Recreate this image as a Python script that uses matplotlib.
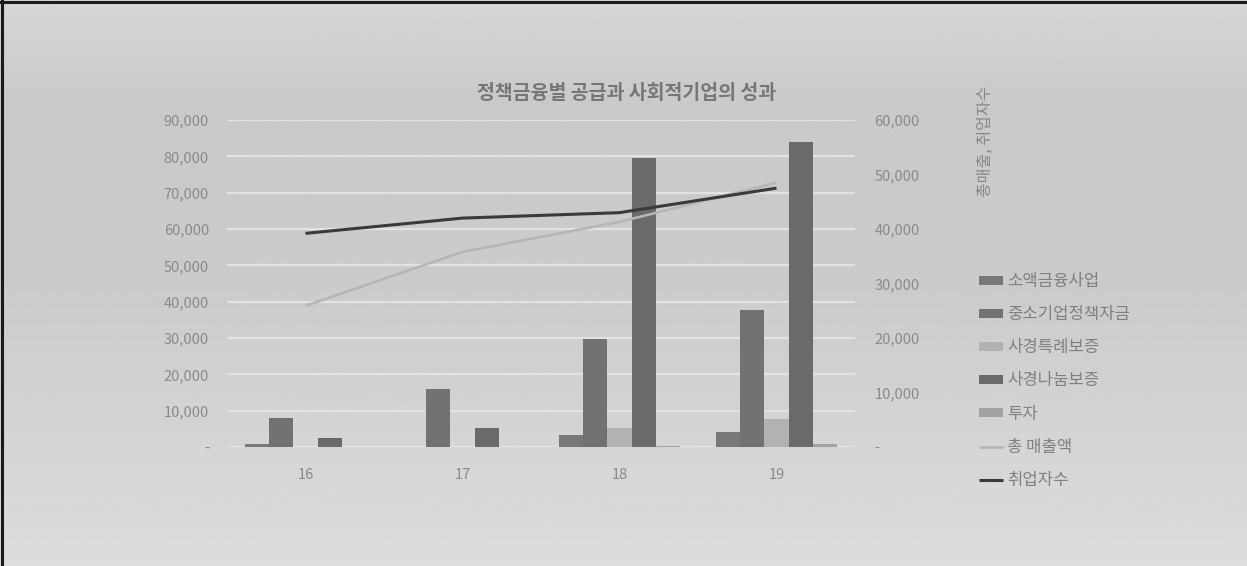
import numpy as np
import matplotlib
matplotlib.use("Agg")
import matplotlib.pyplot as plt
from matplotlib.ticker import FuncFormatter
from matplotlib.lines import Line2D

plt.rcParams['font.family'] = ['Noto Sans CJK KR', 'DejaVu Sans']

years = ["16", "17", "18", "19"]

# 정책금융 공급 (왼쪽 축)
microfinance = [700, 100, 3300, 4100]        # 소액금융사업
sme_fund = [8000, 15900, 29600, 37600]       # 중소기업정책자금
special_guarantee = [0, 0, 5200, 7700]       # 사경특례보증
sharing_guarantee = [2500, 5300, 79600, 84000]  # 사경나눔보증
investment = [0, 0, 200, 800]                # 투자

# 성과 (오른쪽 축)
total_sales = [25900, 35800, 41300, 48500]   # 총 매출액
employees = [39200, 42000, 43000, 47500]     # 취업자수

bar_series = [
    ("소액금융사업", microfinance, "#787878"),
    ("중소기업정책자금", sme_fund, "#727272"),
    ("사경특례보증", special_guarantee, "#b2b2b2"),
    ("사경나눔보증", sharing_guarantee, "#6a6a6a"),
    ("투자", investment, "#a2a2a2"),
]

tick_color = "#8a8a8a"
grid_color = "#e2e2e2"

fig = plt.figure(figsize=(12.47, 5.66), dpi=100)

# background gradient
bg = fig.add_axes([0, 0, 1, 1], zorder=-10)
stops_y = [0.0, 0.18, 0.5, 1.0]
stops_v = [0.84, 0.79, 0.795, 0.865]
grad = np.interp(np.linspace(0, 1, 300), stops_y, stops_v)
bg.imshow(np.tile(grad[:, None], (1, 2)), cmap="gray", vmin=0, vmax=1,
          aspect="auto", extent=[0, 1, 0, 1], origin="upper")
bg.set_xlim(0, 1)
bg.set_ylim(0, 1)
bg.axis("off")

ax = fig.add_axes([227 / 1247, 1 - 447 / 566, 628 / 1247, 327 / 566])
ax.patch.set_alpha(0)
ax2 = ax.twinx()

x = np.arange(len(years))
w = 0.153
for i, (name, vals, color) in enumerate(bar_series):
    ax.bar(x + (i - 2) * w, vals, width=w, color=color, label=name, zorder=3)

ax.set_xlim(-0.5, 3.5)
ax.set_ylim(0, 90000)
ax.set_yticks(np.arange(0, 90001, 10000))
ax.yaxis.grid(True, color=grid_color, linewidth=1.6, zorder=0)
ax.set_axisbelow(True)

ax2.plot(x, total_sales, color="#b6b6b6", linewidth=1.9, label="총 매출액",
         solid_capstyle="butt", zorder=4)
ax2.plot(x, employees, color="#3a3a3a", linewidth=2.2, label="취업자수",
         solid_capstyle="butt", zorder=5)
ax2.set_ylim(0, 60000)
ax2.set_yticks(np.arange(0, 60001, 10000))


def fmt(v, pos):
    return "-" if v == 0 else f"{int(v):,}"


for a in (ax, ax2):
    a.yaxis.set_major_formatter(FuncFormatter(fmt))
    a.tick_params(axis="y", length=0, labelsize=10.5, labelcolor=tick_color)
    for s in a.spines.values():
        s.set_visible(False)

ax.tick_params(axis="y", pad=13)
ax2.tick_params(axis="y", pad=14)
ax.set_xticks(x)
ax.set_xticklabels(years)
ax.tick_params(axis="x", length=0, labelsize=10.5, labelcolor=tick_color, pad=15)
ax.axhline(0, color=grid_color, linewidth=1.6, zorder=2)

fig.text(627 / 1247, 1 - 93 / 566, "정책금융별 공급과 사회적기업의 성과",
         ha="center", va="center", fontsize=14, fontweight="bold",
         color="#777777")
fig.text(985 / 1247, 1 - 141 / 566, "총매출, 취업자수", rotation=90,
         ha="center", va="center", fontsize=11.5, color="#888888")

h1, l1 = ax.get_legend_handles_labels()
h2, l2 = ax2.get_legend_handles_labels()
fig.legend(h1 + h2, l1 + l2, loc="upper left",
           bbox_to_anchor=(979 / 1247, 1 - 273 / 566), frameon=False,
           fontsize=12, labelcolor="#808080", handlelength=1.45,
           handleheight=0.45, handletextpad=0.25, labelspacing=0.97,
           borderpad=0, borderaxespad=0)

# frame edges
fig.add_artist(Line2D([0, 1], [1 - 2 / 566, 1 - 2 / 566], color="#1a1a1a",
                      linewidth=2.2, transform=fig.transFigure))
fig.add_artist(Line2D([2 / 1247, 2 / 1247], [0, 1], color="#1a1a1a",
                      linewidth=2.2, transform=fig.transFigure))

fig.savefig("out.png", dpi=100)
